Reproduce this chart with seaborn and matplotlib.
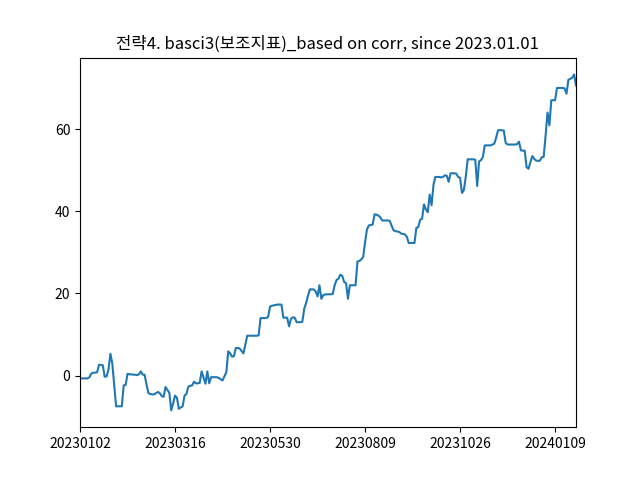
import matplotlib
matplotlib.use("Agg")
import matplotlib.pyplot as plt
import numpy as np
import seaborn as sns

TITLE = "전략4. basci3(보조지표)_based on corr, since 2023.01.01"

# tick labels shown every 50 trading days
TICK_LABELS = ["20230102", "20230316", "20230530", "20230809", "20231026", "20240109"]

# cumulative return, one value per trading day
CUM_RETURN = [
    -0.7, -0.7, -0.7, -0.7, -0.7, -0.4, 0.5, 0.7, 0.7, 0.8,
    2.6, 2.6, 2.5, -0.3, -0.2, 1.5, 5.3, 2.9, -2.3, -7.5,
    -7.5, -7.5, -7.5, -2.4, -2.3, 0.4, 0.3, 0.3, 0.2, 0.2,
    0.1, 0.3, 1.0, 0.2, 0.2, -2.2, -4.3, -4.5, -4.6, -4.6,
    -4.3, -4.0, -4.3, -5.0, -5.2, -2.8, -3.5, -4.2, -8.5, -6.8,
    -4.9, -5.4, -8.1, -7.8, -7.5, -4.9, -4.5, -2.7, -2.5, -2.4,
    -1.5, -1.9, -1.9, -1.8, 1.0, -0.5, -2.0, 1.0, -1.9, -0.4,
    -0.4, -0.4, -0.4, -0.6, -0.9, -1.2, -0.2, 0.8, 5.9, 5.4,
    4.6, 4.7, 6.7, 6.7, 6.6, 6.0, 5.4, 7.6, 9.7, 9.7,
    9.7, 9.7, 9.7, 9.7, 9.8, 14.0, 14.0, 14.0, 14.0, 14.3,
    16.8, 17.0, 17.1, 17.2, 17.3, 17.3, 17.3, 14.1, 14.1, 14.1,
    12.0, 13.8, 14.2, 14.1, 13.0, 13.0, 13.0, 13.1, 16.3, 17.7,
    19.5, 21.0, 21.0, 21.0, 20.5, 19.3, 22.0, 18.7, 19.6, 19.75,
    19.8, 19.8, 19.8, 19.9, 22.0, 23.3, 23.6, 24.6, 24.3, 22.8,
    22.5, 18.7, 22.0, 22.0, 22.0, 22.0, 27.8, 27.9, 28.3, 28.9,
    32.5, 35.6, 36.6, 36.7, 36.8, 39.3, 39.2, 39.0, 38.6, 37.8,
    37.8, 37.8, 37.8, 37.7, 36.5, 35.4, 35.2, 35.1, 35.0, 34.6,
    34.5, 34.4, 33.8, 32.3, 32.3, 32.3, 32.3, 36.0, 36.2, 38.0,
    38.2, 41.7, 40.5, 39.8, 44.1, 41.5, 46.5, 48.4, 48.4, 48.4,
    48.3, 48.4, 48.8, 48.7, 47.2, 49.3, 49.3, 49.3, 49.2, 48.4,
    48.2, 44.5, 45.2, 48.5, 52.7, 52.7, 52.7, 52.7, 52.6, 46.2,
    52.2, 52.5, 53.3, 56.1, 56.1, 56.1, 56.1, 56.3, 56.5, 58.0,
    59.8, 59.8, 59.8, 59.7, 56.7, 56.3, 56.3, 56.3, 56.3, 56.3,
    56.4, 57.0, 54.9, 54.8, 54.8, 50.8, 50.4, 52.0, 53.5, 52.8,
    52.4, 52.3, 52.4, 53.2, 53.3, 58.5, 64.1, 61.0, 67.1, 67.1,
    67.1, 70.1, 70.1, 70.1, 70.1, 70.0, 68.7, 72.1, 72.3, 72.6,
    73.4, 70.7,
]

plt.rcParams["font.family"] = ["Noto Sans CJK KR", "DejaVu Sans"]
plt.rcParams["axes.unicode_minus"] = False

n = len(CUM_RETURN)
day_idx = np.arange(n)

fig, ax = plt.subplots(figsize=(6.4, 4.8), dpi=100)
sns.lineplot(x=day_idx, y=CUM_RETURN, ax=ax, color="#1f77b4", linewidth=1.5)

ax.set_xlim(0, n - 1)
ax.set_xticks(day_idx[::50])
ax.set_xticklabels(TICK_LABELS)
ax.set(xlabel="", ylabel="")
ax.set_title(TITLE)

fig.savefig("out.png", dpi=100)
plt.close(fig)
